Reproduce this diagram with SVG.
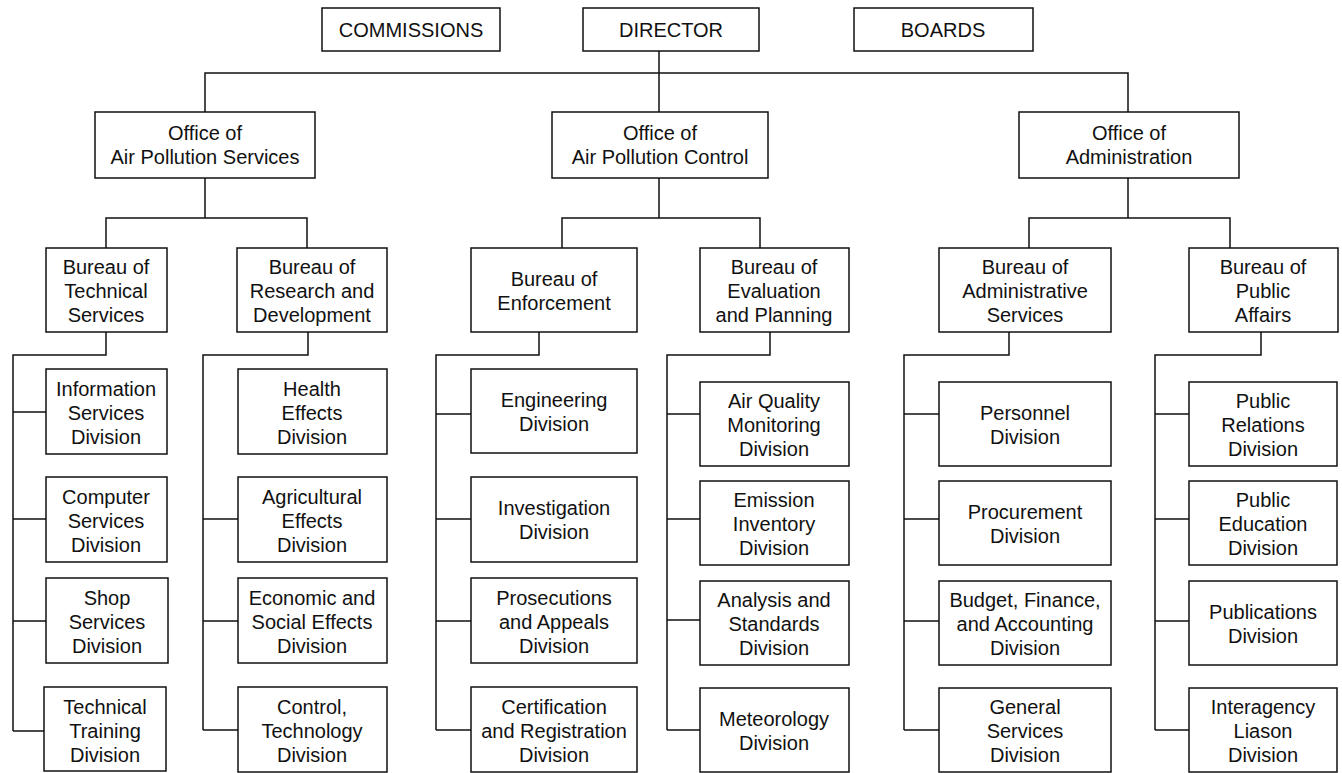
<svg xmlns="http://www.w3.org/2000/svg" width="1342" height="773" viewBox="0 0 1342 773">
<style>
rect{fill:#fff;stroke:#111;stroke-width:1.5}
text{font-family:"Liberation Sans",Arial,sans-serif;font-size:20px;fill:#111;text-anchor:middle}
#connectors path{fill:none;stroke:#111;stroke-width:1.5}
</style>
<rect x="0" y="0" width="1342" height="773" style="fill:#fff;stroke:none"/>
<g id="connectors">
<path d="M659 51V112M205 112V73H1128V112"/>
<path d="M205 178V218M106 248V218H307V248"/>
<path d="M659 178V218M562 248V218H760V248"/>
<path d="M1128 178V218M1029 248V218H1230V248"/>
<path d="M106 332V355H13V731M13 412H46M13 519H46M13 621H46M13 731H46"/>
<path d="M308 332V355H203V730M203 519H238M203 621H238M203 730H238"/>
<path d="M539 332V355H436V730M436 414H471M436 519H471M436 621H471M436 730H471"/>
<path d="M770 332V355H667V730M667 414H700M667 519H700M667 620H700M667 730H700"/>
<path d="M1009 332V355H904V730M904 414H939M904 519H939M904 621H939M904 730H939"/>
<path d="M1261 332V355H1155V730M1155 414H1189M1155 519H1189M1155 621H1189M1155 730H1189"/>
</g>
<g id="commissions"><rect x="322" y="8" width="178" height="43"/><text x="411" y="37">COMMISSIONS</text></g>
<g id="director"><rect x="583" y="8" width="176" height="43"/><text x="671" y="37">DIRECTOR</text></g>
<g id="boards"><rect x="854" y="8" width="179" height="43"/><text x="943" y="37">BOARDS</text></g>

<g id="office-services"><rect x="95" y="112" width="220" height="66"/><text x="205" y="140">Office of</text><text x="205" y="164">Air Pollution Services</text></g>
<g id="office-control"><rect x="552" y="112" width="216" height="66"/><text x="660" y="140">Office of</text><text x="660" y="164">Air Pollution Control</text></g>
<g id="office-admin"><rect x="1019" y="112" width="220" height="66"/><text x="1129" y="140">Office of</text><text x="1129" y="164">Administration</text></g>

<g id="bureau-technical"><rect x="46" y="248" width="121" height="84"/><text x="106" y="274">Bureau of</text><text x="106" y="298">Technical</text><text x="106" y="322">Services</text></g>
<g id="bureau-research"><rect x="237" y="248" width="150" height="84"/><text x="312" y="274">Bureau of</text><text x="312" y="298">Research and</text><text x="312" y="322">Development</text></g>
<g id="bureau-enforcement"><rect x="471" y="248" width="166" height="84"/><text x="554" y="286">Bureau of</text><text x="554" y="310">Enforcement</text></g>
<g id="bureau-evaluation"><rect x="700" y="248" width="149" height="84"/><text x="774" y="274">Bureau of</text><text x="774" y="298">Evaluation</text><text x="774" y="322">and Planning</text></g>
<g id="bureau-administrative"><rect x="939" y="248" width="172" height="84"/><text x="1025" y="274">Bureau of</text><text x="1025" y="298">Administrative</text><text x="1025" y="322">Services</text></g>
<g id="bureau-public"><rect x="1189" y="248" width="149" height="84"/><text x="1263" y="274">Bureau of</text><text x="1263" y="298">Public</text><text x="1263" y="322">Affairs</text></g>

<g id="div-information"><rect x="46" y="369" width="121" height="85"/><text x="106" y="396">Information</text><text x="106" y="420">Services</text><text x="106" y="444">Division</text></g>
<g id="div-computer"><rect x="46" y="477" width="121" height="85"/><text x="106" y="504">Computer</text><text x="106" y="528">Services</text><text x="106" y="552">Division</text></g>
<g id="div-shop"><rect x="46" y="578" width="122" height="85"/><text x="107" y="605">Shop</text><text x="107" y="629">Services</text><text x="107" y="653">Division</text></g>
<g id="div-training"><rect x="44" y="687" width="122" height="84"/><text x="105" y="714">Technical</text><text x="105" y="738">Training</text><text x="105" y="762">Division</text></g>

<g id="div-health"><rect x="238" y="369" width="149" height="85"/><text x="312" y="396">Health</text><text x="312" y="420">Effects</text><text x="312" y="444">Division</text></g>
<g id="div-agricultural"><rect x="238" y="477" width="149" height="85"/><text x="312" y="504">Agricultural</text><text x="312" y="528">Effects</text><text x="312" y="552">Division</text></g>
<g id="div-economic"><rect x="238" y="578" width="149" height="85"/><text x="312" y="605">Economic and</text><text x="312" y="629">Social Effects</text><text x="312" y="653">Division</text></g>
<g id="div-control"><rect x="238" y="687" width="149" height="85"/><text x="312" y="714">Control,</text><text x="312" y="738">Technology</text><text x="312" y="762">Division</text></g>

<g id="div-engineering"><rect x="471" y="369" width="166" height="84"/><text x="554" y="407">Engineering</text><text x="554" y="431">Division</text></g>
<g id="div-investigation"><rect x="471" y="477" width="166" height="85"/><text x="554" y="515">Investigation</text><text x="554" y="539">Division</text></g>
<g id="div-prosecutions"><rect x="471" y="578" width="166" height="85"/><text x="554" y="605">Prosecutions</text><text x="554" y="629">and Appeals</text><text x="554" y="653">Division</text></g>
<g id="div-certification"><rect x="471" y="687" width="166" height="85"/><text x="554" y="714">Certification</text><text x="554" y="738">and Registration</text><text x="554" y="762">Division</text></g>

<g id="div-airquality"><rect x="700" y="382" width="149" height="84"/><text x="774" y="408">Air Quality</text><text x="774" y="432">Monitoring</text><text x="774" y="456">Division</text></g>
<g id="div-emission"><rect x="700" y="481" width="149" height="84"/><text x="774" y="507">Emission</text><text x="774" y="531">Inventory</text><text x="774" y="555">Division</text></g>
<g id="div-analysis"><rect x="700" y="581" width="149" height="84"/><text x="774" y="607">Analysis and</text><text x="774" y="631">Standards</text><text x="774" y="655">Division</text></g>
<g id="div-meteorology"><rect x="700" y="688" width="149" height="84"/><text x="774" y="726">Meteorology</text><text x="774" y="750">Division</text></g>

<g id="div-personnel"><rect x="939" y="382" width="172" height="84"/><text x="1025" y="420">Personnel</text><text x="1025" y="444">Division</text></g>
<g id="div-procurement"><rect x="939" y="481" width="172" height="84"/><text x="1025" y="519">Procurement</text><text x="1025" y="543">Division</text></g>
<g id="div-budget"><rect x="939" y="581" width="172" height="84"/><text x="1025" y="607">Budget, Finance,</text><text x="1025" y="631">and Accounting</text><text x="1025" y="655">Division</text></g>
<g id="div-general"><rect x="939" y="688" width="172" height="84"/><text x="1025" y="714">General</text><text x="1025" y="738">Services</text><text x="1025" y="762">Division</text></g>

<g id="div-relations"><rect x="1189" y="382" width="148" height="84"/><text x="1263" y="408">Public</text><text x="1263" y="432">Relations</text><text x="1263" y="456">Division</text></g>
<g id="div-education"><rect x="1189" y="481" width="148" height="84"/><text x="1263" y="507">Public</text><text x="1263" y="531">Education</text><text x="1263" y="555">Division</text></g>
<g id="div-publications"><rect x="1189" y="581" width="148" height="84"/><text x="1263" y="619">Publications</text><text x="1263" y="643">Division</text></g>
<g id="div-interagency"><rect x="1189" y="688" width="148" height="84"/><text x="1263" y="714">Interagency</text><text x="1263" y="738">Liason</text><text x="1263" y="762">Division</text></g>
</svg>
